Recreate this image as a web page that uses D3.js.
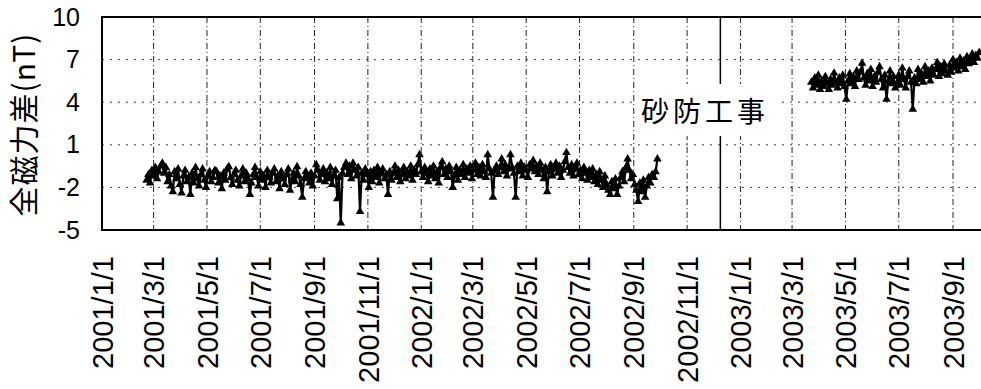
<!DOCTYPE html>
<html>
<head>
<meta charset="utf-8">
<script src="https://cdn.jsdelivr.net/npm/d3@7"></script>
<style>
  html, body { margin: 0; padding: 0; background: #fff; }
  svg { display: block; }
</style>
</head>
<body>
<svg id="chart" width="981" height="389"></svg>
<script>
// Tick labels along the date axis (every two months)
const tickLabels = [
  "2001/1/1", "2001/3/1", "2001/5/1", "2001/7/1", "2001/9/1", "2001/11/1",
  "2002/1/1", "2002/3/1", "2002/5/1", "2002/7/1", "2002/9/1", "2002/11/1",
  "2003/1/1", "2003/3/1", "2003/5/1", "2003/7/1", "2003/9/1"
];
const yTicks = [10, 7, 4, 1, -2, -5];

// Total-field difference (nT), sampled every 2 days
const sampleStepDays = 2;
const series1Start = "2001/2/21";
const series1Values = [
  -1.5, -1.1, -1.7, -0.8, -1.2, -0.6, -1.4, -0.9, -0.5, -0.3,
  -1.0, -0.6, -1.6, -1.1, -1.9, -2.3, -0.9, -1.4, -0.7, -1.8,
  -2.4, -1.2, -0.8, -1.6, -1.3, -2.5, -1.0, -1.7, -0.6, -1.4,
  -1.9, -1.1, -0.7, -1.5, -2.0, -1.2, -0.9, -1.6, -1.3, -0.8,
  -0.9, -1.7, -1.2, -2.1, -1.0, -1.5, -0.7, -0.55, -1.3, -1.8,
  -1.1, -0.8, -1.5, -1.9, -1.2, -0.7, -1.6, -1.0, -1.4, -2.5,
  -1.7, -1.1, -0.6, -1.3, -1.9, -0.9, -1.5, -1.2, -2.0, -0.8,
  -1.3, -1.7, -1.0, -0.7, -1.6, -1.2, -2.1, -0.9, -1.4, -1.8,
  -1.1, -0.7, -2.2, -1.5, -1.0, -1.6, -0.55, -1.2, -1.8, -2.7,
  -1.4, -0.9, -1.3, -1.7, -1.0, -1.9, -1.2, -0.4, -0.8, -1.5,
  -1.1, -0.7, -1.6, -1.0, -1.4, -0.6, -1.8, -1.2, -0.8, -2.8,
  -1.3, -4.5, -1.0, -0.6, -0.3, -1.1, -0.5, -1.4, -0.3, -0.8,
  -1.2, -0.6, -3.7, -1.0, -1.5, -0.7, -1.1, -2.0, -0.9, -1.6,
  -0.8, -1.3, -0.6, -1.7, -1.0, -0.7, -1.4, -1.1, -2.5, -0.9,
  -1.5, -1.0, -0.5, -1.3, -0.8, -1.6, -1.1, -0.6, -1.4, -0.9,
  -1.2, -0.5, -1.5, -0.8, -1.1, -0.4, 0.3, -0.9, -1.3, -0.6,
  -1.0, -1.6, -0.7, -1.2, -0.5, -1.4, -0.9, -1.7, -0.6, -0.2,
  -1.1, -0.7, -1.3, -0.5, -0.9, -2.0, -1.2, -0.6, -1.5, -0.8,
  -1.1, -0.4, -1.3, -0.7, -1.0, -0.5, -1.4, -0.8, -0.3, -1.1,
  -0.6, -1.2, -0.4, -0.9, -1.3, 0.3, -0.7, -1.0, -2.7, -0.8,
  -0.5, -1.1, -0.6, 0.0, -0.9, -0.4, -1.2, -0.7, 0.3, -0.6,
  -1.0, -2.7, -0.5, -0.9, -0.3, -1.2, -0.6, -0.8, -1.3, -0.4,
  -0.7, -0.1, -0.9, -0.5, -1.1, -0.3, -0.8, -1.4, -0.6, -2.3,
  -0.9, -0.4, -1.2, -0.7, -0.3, -1.0, -0.5, -1.3, -0.8, -0.2,
  0.45, -0.6, -1.0, -0.4, -1.2, -0.7, -0.3, -1.1, -0.8, -1.4,
  -0.6, -1.0, -1.5, -0.8, -1.3, -0.7, -1.6, -1.1, -1.8, -0.9,
  -1.5, -2.0, -1.2, -1.8, -2.2, -2.5, -1.6, -2.1, -1.4, -2.5,
  -1.9, -1.3, -0.9, -1.6, -0.6, 0.0, -0.8, -1.4, -1.1, -1.8,
  -2.2, -3.0, -1.7, -2.3, -1.5, -2.7, -1.9, -1.3, -1.7, -1.1,
  -1.3, -0.9, 0.0
];
const series2Start = "2003/3/23";
const series2Values = [
  5.4, 5.0, 5.7, 5.2, 5.9, 4.9, 5.5, 5.1, 5.8, 5.3,
  4.9, 5.6, 5.2, 6.05, 5.4, 5.0, 5.7, 5.3, 5.9, 5.1,
  4.2, 5.5, 6.0, 5.3, 5.8, 5.1, 6.2, 5.6, 6.1, 6.75,
  5.7, 5.2, 6.0, 5.5, 6.3, 5.1, 5.8, 5.4, 6.1, 6.5,
  5.6, 5.0, 5.9, 4.2, 5.5, 6.2, 5.3, 5.8, 5.0, 5.35,
  5.9, 5.2, 6.4, 5.6, 5.0, 5.8, 6.2, 5.4, 3.5, 5.7,
  5.3, 6.3, 5.6, 6.0, 5.4, 6.5, 5.8, 6.2, 5.5, 6.4,
  5.9, 6.3, 6.8, 5.8, 6.5, 6.0, 6.7, 6.2, 5.9, 6.6,
  6.1, 7.0, 6.4, 6.8, 6.2, 7.1, 6.5, 6.9, 6.3, 7.2,
  6.7, 7.0, 7.4, 6.8, 7.3, 7.1, 7.5
];

// Start of the erosion-control works, marked by a vertical line
const eventDate = "2002/12/9";
const eventLabel = "砂防工事";
const yTitle = "全磁力差(nT)";

const parseDate = s => {
  const [yy, mm, dd] = s.split("/").map(Number);
  return new Date(Date.UTC(yy, mm - 1, dd));
};
const toPoints = (start, values) => {
  const t0 = parseDate(start);
  return values.map((v, i) => ({ date: d3.utcDay.offset(t0, i * sampleStepDays), value: v }));
};
const series = [toPoints(series1Start, series1Values), toPoints(series2Start, series2Values)];

const svg = d3.select("#chart");
const plotLeft = 102, plotTop = 17, plotBottom = 230, plotRight = 990;

const x = d3.scaleUtc()
  .domain([parseDate("2001/1/1"), parseDate("2003/9/1")])
  .range([plotLeft, 953]);
const y = d3.scaleLinear().domain([-5, 10]).range([plotBottom, plotTop]);

const tickDates = tickLabels.map(parseDate);

// Grid
const grid = svg.append("g");
grid.selectAll("line.h")
  .data(yTicks.filter(v => v > -5 && v < 10))
  .join("line")
  .attr("class", "h")
  .attr("x1", plotLeft).attr("x2", plotRight)
  .attr("y1", d => y(d)).attr("y2", d => y(d))
  .attr("stroke", "#444").attr("stroke-width", 1)
  .attr("stroke-dasharray", "2,6");
grid.selectAll("line.v")
  .data(tickDates.slice(1))
  .join("line")
  .attr("class", "v")
  .attr("x1", d => x(d)).attr("x2", d => x(d))
  .attr("y1", plotTop).attr("y2", plotBottom)
  .attr("stroke", "#222").attr("stroke-width", 1)
  .attr("stroke-dasharray", "6,3,1,3");

// Event line
svg.append("line")
  .attr("x1", x(parseDate(eventDate))).attr("x2", x(parseDate(eventDate)))
  .attr("y1", plotTop).attr("y2", plotBottom)
  .attr("stroke", "#000").attr("stroke-width", 1.5);

// Data lines and triangle markers
const line = d3.line().x(d => x(d.date)).y(d => y(d.value));
const tri = d3.symbol().type(d3.symbolTriangle).size(32);
series.forEach(s => {
  svg.append("path").datum(s)
    .attr("d", line)
    .attr("fill", "none").attr("stroke", "#000")
    .attr("stroke-width", 2.2).attr("stroke-linejoin", "round");
  svg.append("g").selectAll("path")
    .data(s).join("path")
    .attr("transform", d => `translate(${x(d.date)},${y(d.value)})`)
    .attr("d", tri)
    .attr("fill", "#000");
});

// Label box
const labelG = svg.append("g");
labelG.append("rect")
  .attr("x", 636).attr("y", 84).attr("width", 142).attr("height", 52)
  .attr("fill", "#fff");
labelG.append("text")
  .attr("x", 641).attr("y", 110)
  .attr("dominant-baseline", "central")
  .attr("font-family", "'Noto Sans CJK JP', sans-serif")
  .attr("font-size", 28)
  .attr("letter-spacing", 4)
  .attr("fill", "#000")
  .text(eventLabel);

// Frame (top, left, bottom)
svg.append("path")
  .attr("d", `M${plotRight},${plotTop}H${plotLeft}V${plotBottom}H${plotRight}`)
  .attr("fill", "none").attr("stroke", "#000").attr("stroke-width", 2);

// Y axis labels
const yAxis = d3.axisLeft(y).tickValues(yTicks).tickSize(0).tickPadding(22)
  .tickFormat(d => String(d));
svg.append("g")
  .attr("transform", `translate(${plotLeft},0)`)
  .call(yAxis)
  .call(g => g.select(".domain").remove())
  .call(g => g.selectAll("text")
    .attr("font-family", "'Liberation Sans', Arial, sans-serif")
    .attr("font-size", 25).attr("fill", "#000"));

// X axis labels, rotated
const xAxis = d3.axisBottom(x).tickValues(tickDates).tickSize(0)
  .tickFormat((d, i) => tickLabels[i]);
svg.append("g")
  .attr("transform", `translate(0,${plotBottom})`)
  .call(xAxis)
  .call(g => g.select(".domain").remove())
  .call(g => g.selectAll("text")
    .attr("font-family", "'Liberation Sans', Arial, sans-serif")
    .attr("font-size", 29).attr("fill", "#000")
    .attr("text-anchor", "end")
    .attr("dy", "0.35em")
    .attr("transform", "translate(0,26) rotate(-90)")
    .attr("x", 0).attr("y", 0));

// Y title
svg.append("text")
  .attr("transform", `translate(22,${(plotTop + plotBottom) / 2 + 1}) rotate(-90)`)
  .attr("text-anchor", "middle")
  .attr("dominant-baseline", "central")
  .attr("font-family", "'Noto Sans CJK JP', sans-serif")
  .attr("font-size", 30)
  .attr("letter-spacing", 1)
  .attr("fill", "#000")
  .text(yTitle);
</script>
</body>
</html>
